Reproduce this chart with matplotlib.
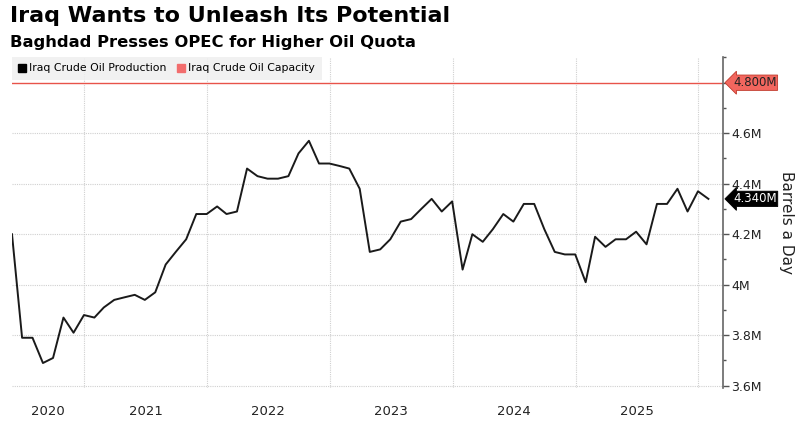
import matplotlib
matplotlib.use("Agg")
import matplotlib.pyplot as plt
from matplotlib.lines import Line2D
from matplotlib.ticker import FuncFormatter, MultipleLocator
import pandas as pd

# monthly Iraq crude output, million barrels a day
dates = pd.date_range("2020-05-31", "2026-01-31", freq="ME")
production = [
    4.20, 3.79, 3.79, 3.69, 3.71, 3.87, 3.81, 3.88,
    3.87, 3.91, 3.94, 3.95, 3.96, 3.94, 3.97, 4.08, 4.13, 4.18, 4.28, 4.28,
    4.31, 4.28, 4.29, 4.46, 4.43, 4.42, 4.42, 4.43, 4.52, 4.57, 4.48, 4.48,
    4.47, 4.46, 4.38, 4.13, 4.14, 4.18, 4.25, 4.26, 4.30, 4.34, 4.29, 4.33,
    4.06, 4.20, 4.17, 4.22, 4.28, 4.25, 4.32, 4.32, 4.22, 4.13, 4.12, 4.12,
    4.01, 4.19, 4.15, 4.18, 4.18, 4.21, 4.16, 4.32, 4.32, 4.38, 4.29, 4.37,
    4.34,
]
capacity = 4.8
years = [2020, 2021, 2022, 2023, 2024, 2025]

red = "#e8534a"
fig = plt.figure(figsize=(8, 4.25), dpi=100)
ax = fig.add_axes([0.015, 0.087, 0.889, 0.779])

ax.plot(dates, production, color="#1a1a1a", lw=1.4, zorder=3)
ax.axhline(capacity, color=red, lw=1.0, zorder=2)

xmin = dates[0]
xmax = dates[-1] + pd.Timedelta(days=44)
ax.set_xlim(xmin, xmax)
ax.set_ylim(3.591, 4.902)

# y axis on the right; 4.8 is covered by the capacity tag
ax.yaxis.tick_right()
ax.yaxis.set_label_position("right")
ax.set_yticks([3.6, 3.8, 4.0, 4.2, 4.4, 4.6])
ax.yaxis.set_minor_locator(MultipleLocator(0.1))
ax.yaxis.set_major_formatter(FuncFormatter(lambda v, p: f"{v:g}M"))
ax.tick_params(axis="y", which="major", length=4, width=1, color="#555555",
               labelsize=9, pad=2, labelcolor="#222222")
ax.tick_params(axis="y", which="minor", length=2.5, width=1, color="#555555")
ax.set_ylabel("Barrels a Day", rotation=-90, labelpad=23, fontsize=11, color="#222222")

# year boundaries as gridlines, labels centred in the visible part of each year
bounds = [pd.Timestamp(f"{y}-01-01") for y in years[1:]] + [pd.Timestamp("2026-01-01")]
ax.set_xticks(bounds)
ax.set_xticklabels([])
ax.tick_params(axis="x", which="major", length=0)
centers = []
for y in years:
    lo = max(xmin, pd.Timestamp(f"{y}-01-01"))
    hi = min(xmax, pd.Timestamp(f"{y + 1}-01-01"))
    centers.append(lo + (hi - lo) / 2)
ax.set_xticks(centers, minor=True)
ax.set_xticklabels([str(y) for y in years], minor=True)
ax.tick_params(axis="x", which="minor", length=0, labelsize=9.5, pad=12, labelcolor="#222222")

ax.grid(True, which="major", color="#d0d0d0", lw=0.8, ls=(0, (1, 1)))
for s in ["top", "left", "bottom"]:
    ax.spines[s].set_visible(False)
ax.spines["right"].set_color("#666666")
ax.spines["right"].set_linewidth(1.2)

# end-value tags
ax.annotate(f"{capacity:.3f}M", xy=(1, capacity), xycoords=("axes fraction", "data"),
            xytext=(7, 0), textcoords="offset points", va="center", ha="left",
            fontsize=8.5, color="#222222", zorder=5, annotation_clip=False,
            bbox=dict(boxstyle="larrow,pad=0.1", fc="#f2665e", ec="#c0392b", lw=0.6))
ax.annotate(f"{production[-1]:.3f}M", xy=(1, production[-1]), xycoords=("axes fraction", "data"),
            xytext=(7, 0), textcoords="offset points", va="center", ha="left",
            fontsize=8.5, color="white", zorder=5, annotation_clip=False,
            bbox=dict(boxstyle="larrow,pad=0.1", fc="black", ec="black", lw=0.6))

handles = [
    Line2D([], [], marker="s", ls="none", color="black", markersize=5.5),
    Line2D([], [], marker="s", ls="none", color="#f26d6d", markersize=5.5),
]
leg = ax.legend(handles, ["Iraq Crude Oil Production", "Iraq Crude Oil Capacity"],
                loc="upper left", bbox_to_anchor=(0, 1), ncol=2, frameon=True,
                facecolor="#efefef", edgecolor="none", fancybox=False, framealpha=0.85,
                borderaxespad=0, handlelength=0.7, handletextpad=0.3,
                columnspacing=1.0, fontsize=7.8, borderpad=0.6)

fig.text(0.012, 0.985, "Iraq Wants to Unleash Its Potential", fontsize=16,
         fontweight="bold", va="top", ha="left")
fig.text(0.012, 0.918, "Baghdad Presses OPEC for Higher Oil Quota", fontsize=11.8,
         fontweight="bold", va="top", ha="left")

fig.savefig("out.png", dpi=100)
